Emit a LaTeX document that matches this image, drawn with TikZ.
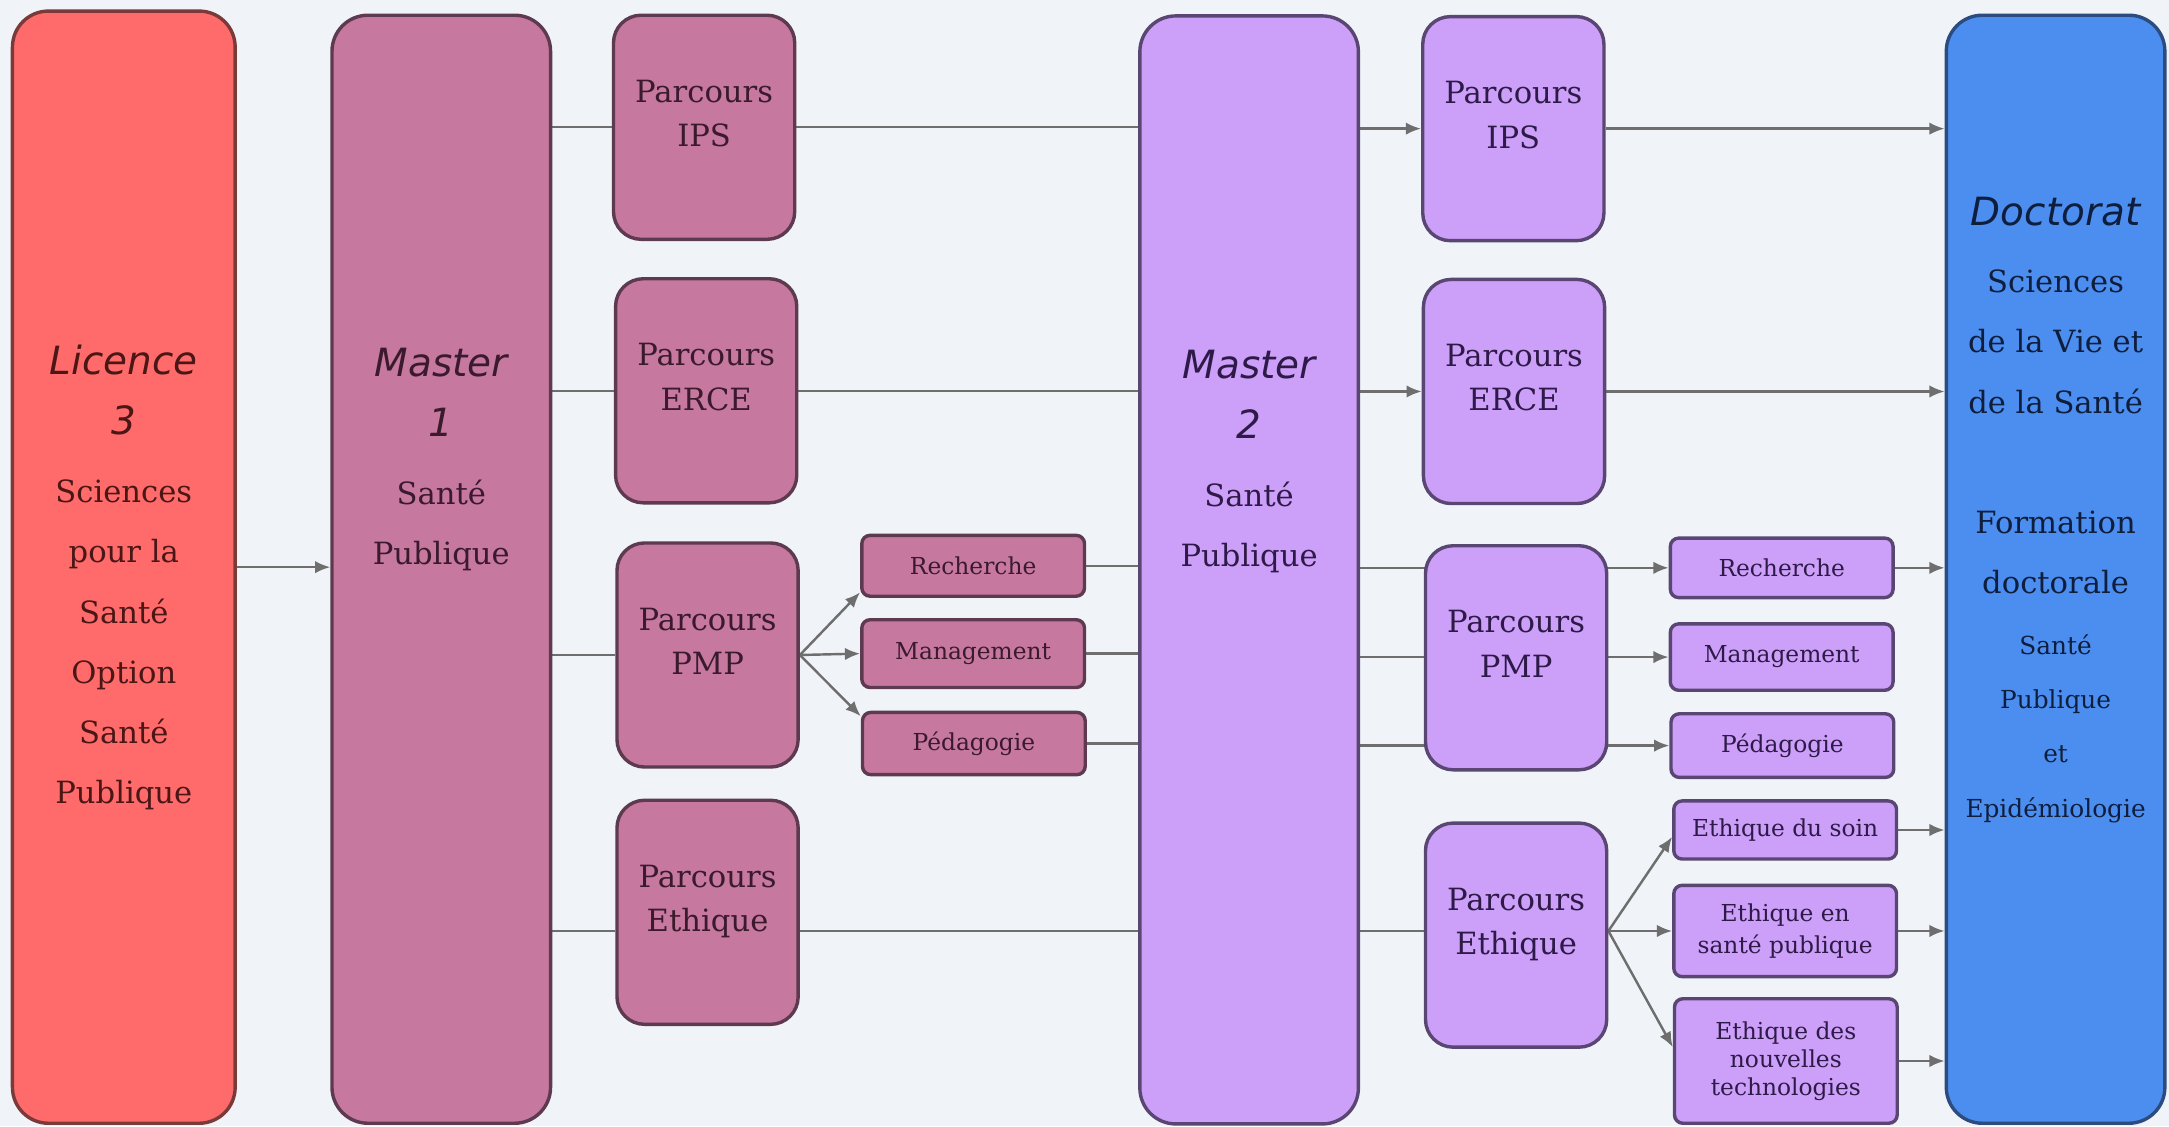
\documentclass[tikz,border=0pt]{standalone}
\usepackage{fontspec}
\setmainfont{DejaVu Serif}
\newfontfamily\headfont{DejaVu Sans}
\usetikzlibrary{positioning,arrows.meta,backgrounds}
\definecolor{fond}{HTML}{F0F4F8}
\definecolor{licence}{HTML}{FF6B6B}
\definecolor{licbord}{HTML}{7A3A3A}
\definecolor{lictxt}{HTML}{4A1616}
\definecolor{mun}{HTML}{C6789F}
\definecolor{munbord}{HTML}{5E3A50}
\definecolor{muntxt}{HTML}{3A1A2C}
\definecolor{mdeux}{HTML}{CC9FF8}
\definecolor{mdeuxbord}{HTML}{5A4672}
\definecolor{mdeuxtxt}{HTML}{2E1A48}
\definecolor{doct}{HTML}{4C8EF0}
\definecolor{doctbord}{HTML}{2C4C80}
\definecolor{docttxt}{HTML}{0E1E3C}
\definecolor{trait}{HTML}{6E6E6E}
\newcommand{\entete}{\headfont\itshape\fontsize{8}{12.4}\selectfont}
\newcommand{\petit}{\fontsize{5.1}{12.4}\selectfont}
\newcommand{\fin}{\\[-3.4pt]\mbox{}}
\begin{document}
\begin{tikzpicture}[
		rouge/.style={fill=licence, draw=licbord, text=lictxt},
		rose/.style={fill=mun, draw=munbord, text=muntxt},
		mauve/.style={fill=mdeux, draw=mdeuxbord, text=mdeuxtxt},
		bleu/.style={fill=doct, draw=doctbord, text=docttxt},
		bigbox/.style={line width=0.7pt, rounded corners=0.26cm, minimum width=1.58cm, minimum height=8.01cm},
		parcbox/.style={line width=0.7pt, rounded corners=0.2cm, minimum width=1.31cm, minimum height=1.62cm, align=center, font=\fontsize{6.3}{9.1}\selectfont},
		subbox/.style={line width=0.7pt, rounded corners=0.06cm, minimum width=1.61cm, minimum height=0.45cm, inner sep=1pt, align=center, font=\fontsize{4.8}{6.6}\selectfont},
		bigtxt/.style={inner sep=0pt, align=center, font=\fontsize{6.3}{12.4}\selectfont},
		lien/.style={draw=trait, line width=0.5pt},
		fleche/.style={lien, -{Latex[length=1.1mm, width=0.9mm]}}
	]
			\useasboundingbox (0,0) rectangle (15.68,-8.14);
			
			\node[bigbox, rouge, minimum width=1.61cm, minimum height=8.04cm] (lic) at (0.895,-4.10) {};
			\node[bigbox, rose] (m1) at (3.19,-4.115) {};
			\node[bigbox, mauve] (m2) at (9.03,-4.12) {};
			\node[bigbox, bleu] (doc) at (14.86,-4.115) {};
			
			\node[parcbox, rose] (ips1) at (5.09,-0.92) {Parcours\\IPS\fin};
			\node[parcbox, rose] (erce1) at (5.105,-2.825) {Parcours\\ERCE\fin};
			\node[parcbox, rose] (pmp1) at (5.115,-4.735) {Parcours\\PMP\fin};
			\node[parcbox, rose] (eth1) at (5.115,-6.595) {Parcours\\Ethique\fin};
			\node[parcbox, mauve] (ips2) at (10.94,-0.93) {Parcours\\IPS\fin};
			\node[parcbox, mauve] (erce2) at (10.945,-2.83) {Parcours\\ERCE\fin};
			\node[parcbox, mauve] (pmp2) at (10.96,-4.755) {Parcours\\PMP\fin};
			\node[parcbox, mauve] (eth2) at (10.96,-6.76) {Parcours\\Ethique\fin};
			
			\node[subbox, rose, minimum height=0.44cm] (rech1) at (7.035,-4.09) {Recherche};
			\node[subbox, rose, minimum height=0.49cm] (man1) at (7.035,-4.725) {Management};
			\node[subbox, rose] (ped1) at (7.04,-5.375) {Pédagogie};
			\node[subbox, mauve, minimum height=0.43cm] (rech2) at (12.88,-4.105) {Recherche};
			\node[subbox, mauve, minimum height=0.48cm] (man2) at (12.88,-4.75) {Management};
			\node[subbox, mauve, minimum height=0.46cm] (ped2) at (12.885,-5.39) {Pédagogie};
			\node[subbox, mauve, minimum height=0.42cm] (soin) at (12.905,-6.00) {Ethique du soin};
			\node[subbox, mauve, minimum height=0.66cm] (sp) at (12.905,-6.73) {Ethique en\\santé publique};
			\node[subbox, mauve, minimum height=0.90cm, font=\fontsize{4.8}{5.8}\selectfont] (nou) at (12.91,-7.67) {Ethique des\\nouvelles\\technologies};
			
			\node[bigtxt, text=lictxt, below=2.42cm of lic.north] (lict) {\entete Licence\\ \entete 3\\[1.5pt] Sciences\\ pour la\\ Santé\\ Option\\ Santé\\ Publique};
			\node[bigtxt, text=muntxt, below=2.41cm of m1.north] (m1t) {\entete Master\\ \entete 1\\[1.5pt] Santé\\ Publique};
			\node[bigtxt, text=mdeuxtxt, below=2.42cm of m2.north] (m2t) {\entete Master\\ \entete 2\\[1.5pt] Santé\\ Publique};
			\node[bigtxt, text=docttxt, below=1.32cm of doc.north] (doct) {\entete Doctorat\\[1.4pt] Sciences\\ de la Vie et\\ de la Santé\\[12.4pt] Formation\\ doctorale\\ \petit Santé\\[-1.2pt] \petit Publique\\[-1.3pt] \petit et\\[-1.2pt] \petit Epidémiologie};
			
			\begin{scope}[on background layer]
				\fill[fond] (0,0) rectangle (15.68,-8.14);
				\draw[fleche] (lic.east) -- (lic.east -| m1.west);
				
				\draw[lien] (m1.east |- ips1.west) -- (ips1.west);
				\draw[lien] (ips1.east) -- (ips1.east -| m2.west);
				\draw[fleche] (m2.east |- ips2.west) -- (ips2.west);
				\draw[fleche] (ips2.east) -- (ips2.east -| doc.west);
				
				\draw[lien] (m1.east |- erce1.west) -- (erce1.west);
				\draw[lien] (erce1.east) -- (erce1.east -| m2.west);
				\draw[fleche] (m2.east |- erce2.west) -- (erce2.west);
				\draw[fleche] (erce2.east) -- (erce2.east -| doc.west);
				
				\draw[lien] (m1.east |- pmp1.west) -- (pmp1.west);
				\draw[fleche] (pmp1.east) -- ([yshift=0.4mm]rech1.south west);
				\draw[fleche] (pmp1.east) -- (man1.west);
				\draw[fleche] (pmp1.east) -- ([yshift=-0.4mm]ped1.north west);
				\draw[lien] (rech1.east) -- (rech1.east -| m2.west);
				\draw[lien] (man1.east) -- (man1.east -| m2.west);
				\draw[lien] (ped1.east) -- (ped1.east -| m2.west);
				\draw[fleche] (m2.east |- rech2.west) -- (rech2.west);
				\draw[fleche] (m2.east |- man2.west) -- (man2.west);
				\draw[fleche] (m2.east |- ped2.west) -- (ped2.west);
				\draw[fleche] (rech2.east) -- (rech2.east -| doc.west);
				
				\draw[lien] (m1.east |- sp.west) -- (eth1.west |- sp.west);
				\draw[lien] (eth1.east |- sp.west) -- (m2.west |- sp.west);
				\draw[lien] (m2.east |- sp.west) -- (eth2.west |- sp.west);
				\draw[fleche] (eth2.east |- sp.west) -- ([yshift=-0.5mm]soin.west);
				\draw[fleche] (eth2.east |- sp.west) -- (sp.west);
				\draw[fleche] (eth2.east |- sp.west) -- ([yshift=1mm]nou.west);
				\draw[fleche] (soin.east) -- (soin.east -| doc.west);
				\draw[fleche] (sp.east) -- (sp.east -| doc.west);
				\draw[fleche] (nou.east) -- (nou.east -| doc.west);
			\end{scope}
			
		\end{tikzpicture}
\end{document}
